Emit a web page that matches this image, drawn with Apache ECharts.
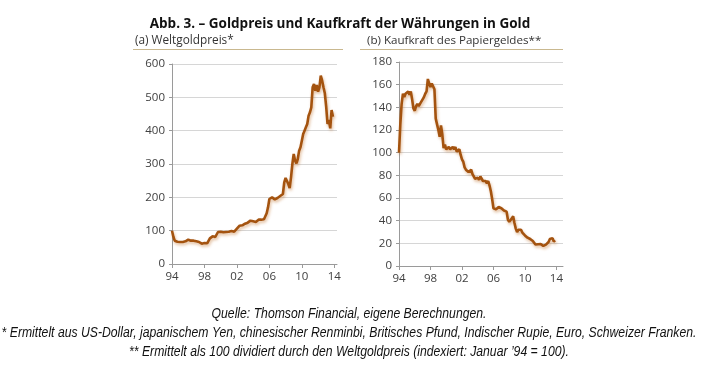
<!DOCTYPE html>
<html><head><meta charset="utf-8">
<script src="https://cdn.jsdelivr.net/npm/echarts@6/dist/echarts.min.js"></script>
<style>html,body{margin:0;padding:0;background:#fff}#c{width:701px;height:370px}</style>
</head><body><div id="c"></div>
<script>
// Bimonthly observations, Jan 1994 .. Nov 2013
const startYear = 1994;
const stepMonths = 2;
const goldIndex = [
  100, 82, 70, 66, 67, 66,
  66, 65, 66, 65, 68, 72,
  73, 71, 70, 71, 70, 69,
  68, 67, 66, 65, 61, 62,
  63, 62, 62, 64, 77, 80,
  83, 88, 81, 86, 96, 93,
  97, 98, 95, 97, 96, 95,
  97, 95, 99, 98, 97, 102,
  106, 108, 115, 117, 116, 120,
  121, 118, 124, 125, 130, 128,
  128, 131, 126, 129, 133, 131,
  133, 137, 134, 140, 152, 170,
  195, 192, 200, 196, 194, 190,
  198, 200, 204, 205, 210, 245,
  258, 255, 240, 228, 260, 300,
  330, 310, 302, 315, 340, 350,
  370, 390, 400, 410, 420, 445,
  455, 470, 530, 540, 520, 537,
  517, 530, 565, 550, 530, 512,
  472, 420, 432, 407, 462, 442
];
const kaufkraft = [
  100, 125, 143, 152, 149, 152,
  152, 154, 151, 154, 147, 139,
  137, 141, 143, 141, 143, 145,
  147, 149, 152, 154, 165, 161,
  158, 161, 160, 156, 130, 125,
  120, 114, 124, 116, 104, 107,
  103, 102, 105, 103, 104, 105,
  103, 105, 101, 102, 103, 98,
  94, 92, 87, 85, 86, 83,
  83, 85, 81, 80, 77, 78,
  78, 76, 79, 77.5, 75, 76,
  75, 73, 75, 71, 66, 59,
  51, 52, 50, 51, 52, 53,
  51, 50, 49, 49, 48, 41,
  39, 39, 42, 44, 38, 33,
  30, 32, 33, 32, 29.5, 28.5,
  27, 25.6, 25, 24.4, 23.8, 22.5,
  22, 21.3, 18.9, 18.5, 19.2, 18.6,
  19.3, 18.9, 17.7, 18.2, 18.9, 19.5,
  21.2, 23.8, 23.1, 24.6, 21.6, 22.6
];
const yearLabels = ['94', '98', '02', '06', '10', '14'];
const notes = [
  'Quelle: Thomson Financial, eigene Berechnungen.',
  '* Ermittelt aus US-Dollar, japanischem Yen, chinesischer Renminbi, Britisches Pfund, Indischer Rupie, Euro, Schweizer Franken.',
  "** Ermittelt als 100 dividiert durch den Weltgoldpreis (indexiert: Januar ’94 = 100)."
];

function makeCats(n) {
  const out = [];
  for (let i = 0; i < n; i++) {
    const m = i * stepMonths;
    const y = startYear + Math.floor(m / 12);
    out.push(y + '-' + String(m % 12 + 1).padStart(2, '0'));
  }
  return out;
}
const catsLeft = makeCats(123);
const catsRight = makeCats(126);

const FONT = "'Open Sans', 'Noto Sans', sans-serif";
const NOTEFONT = "'Liberation Sans', Arial, sans-serif";
const lineCol = '#a4530f';
const labelFn = (v) => { const s = v.slice(2, 4); return yearLabels.includes(s) ? s : ''; };
const every4 = (i) => i % 24 === 0;

function xAxis(idx, cats) {
  return {
    type: 'category', gridIndex: idx, data: cats, boundaryGap: false,
    axisLine: { lineStyle: { color: '#9a9a9a', width: 1 } },
    axisTick: { show: true, interval: every4, length: 4, lineStyle: { color: '#9a9a9a' } },
    axisLabel: { interval: every4, formatter: labelFn, color: '#404040', fontFamily: FONT, fontSize: 11.5, margin: 7 },
    splitLine: { show: false }
  };
}
function yAxis(idx, max, interval) {
  return {
    type: 'value', gridIndex: idx, min: 0, max: max, interval: interval,
    axisLine: { show: true, lineStyle: { color: '#9a9a9a', width: 1 } },
    axisTick: { show: true, length: 3, lineStyle: { color: '#9a9a9a' } },
    axisLabel: { color: '#404040', fontFamily: FONT, fontSize: 11.5, margin: 7 },
    splitLine: { show: true, lineStyle: { color: '#d6d6d6', width: 1 } }
  };
}
const lineStyle = { color: lineCol, width: 2.6, shadowColor: 'rgba(190,110,40,0.45)', shadowBlur: 3, shadowOffsetX: 1, shadowOffsetY: 2 };

const noteGraphics = notes.map((t, i) => ({
  type: 'text', x: 349, y: 314 + i * 19, scaleX: 0.872,
  style: { text: t, textAlign: 'center', textVerticalAlign: 'middle', fill: '#111',
    font: 'italic 14px ' + NOTEFONT }
}));

const chart = echarts.init(document.getElementById('c'), null, { renderer: 'canvas' });
chart.setOption({
  animation: false,
  backgroundColor: '#fff',
  title: [
    { text: 'Abb. 3. – Goldpreis und Kaufkraft der Währungen in Gold', left: 335, top: 12, textAlign: 'center',
      textStyle: { fontFamily: FONT, fontWeight: 'bold', fontSize: 13.5, color: '#111' } },
    { text: '(a) Weltgoldpreis*', left: 130, top: 30,
      textStyle: { fontFamily: FONT, fontWeight: 'normal', fontSize: 11.8, color: '#333' } },
    { text: '(b) Kaufkraft des Papiergeldes**', left: 362, top: 30,
      textStyle: { fontFamily: FONT, fontWeight: 'normal', fontSize: 11.6, color: '#333' } }
  ],
  graphic: [
    { type: 'line', shape: { x1: 133, y1: 49.5, x2: 343, y2: 49.5 }, style: { stroke: '#c9b88f', lineWidth: 1 } },
    { type: 'line', shape: { x1: 360, y1: 49.5, x2: 563, y2: 49.5 }, style: { stroke: '#c9b88f', lineWidth: 1 } }
  ].concat(noteGraphics),
  grid: [
    { left: 172, top: 64, width: 165, height: 200 },
    { left: 399, top: 62, width: 164, height: 204 }
  ],
  xAxis: [xAxis(0, catsLeft), xAxis(1, catsRight)],
  yAxis: [yAxis(0, 600, 100), yAxis(1, 180, 20)],
  series: [
    { type: 'line', xAxisIndex: 0, yAxisIndex: 0, data: goldIndex, showSymbol: false, lineStyle: lineStyle, z: 5 },
    { type: 'line', xAxisIndex: 1, yAxisIndex: 1, data: kaufkraft, showSymbol: false, lineStyle: lineStyle, z: 5 }
  ]
});
</script></body></html>
